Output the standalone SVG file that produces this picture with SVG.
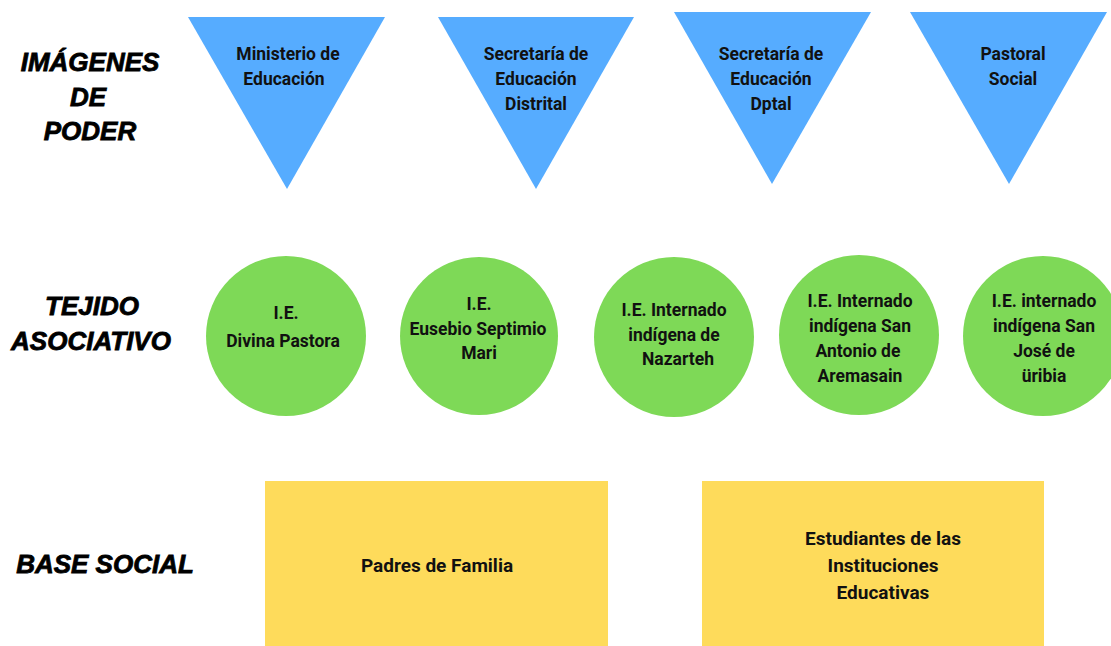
<svg xmlns="http://www.w3.org/2000/svg" width="1111" height="646" viewBox="0 0 1111 646">
<style>
.t{font-family:Roboto,"Liberation Sans",sans-serif;font-weight:bold;font-size:17.5px;fill:#111;text-anchor:middle;dominant-baseline:central}
.r{font-size:19px}
.lab{font-family:"Liberation Sans",sans-serif;font-weight:bold;font-style:italic;font-size:26px;fill:#000;stroke:#000;stroke-width:0.8;text-anchor:middle;dominant-baseline:central}
.tri{fill:#56acff}
.cir{fill:#7ed957}
.box{fill:#fedb5b}
</style>
<rect width="1111" height="646" fill="#fff"/>
<g id="labels">
<text class="lab" x="90" y="62">IMÁGENES</text>
<text class="lab" x="88" y="97">DE</text>
<text class="lab" x="90" y="131">PODER</text>
<text class="lab" x="92" y="306">TEJIDO</text>
<text class="lab" x="91" y="341">ASOCIATIVO</text>
<text class="lab" x="105" y="564">BASE SOCIAL</text>
</g>
<g id="connectors"></g>
<g id="tri1"><polygon class="tri" points="188,17 385,17 287,189"/><text class="t" x="288" y="54">Ministerio de</text><text class="t" x="284" y="79">Educación</text></g>
<g id="tri2"><polygon class="tri" points="438,17 634,17 536,189"/><text class="t" x="536" y="54">Secretaría de</text><text class="t" x="536" y="79">Educación</text><text class="t" x="536" y="104">Distrital</text></g>
<g id="tri3"><polygon class="tri" points="674,12 871,12 772,184"/><text class="t" x="771" y="54">Secretaría de</text><text class="t" x="771" y="79">Educación</text><text class="t" x="771" y="104">Dptal</text></g>
<g id="tri4"><polygon class="tri" points="910,12 1107,12 1009,184"/><text class="t" x="1013" y="54">Pastoral</text><text class="t" x="1013" y="79">Social</text></g>
<g id="c1"><circle class="cir" cx="286" cy="336" r="80"/><text class="t" x="286" y="313">I.E.</text><text class="t" x="283" y="341">Divina Pastora</text></g>
<g id="c2"><circle class="cir" cx="479" cy="336" r="79"/><text class="t" x="479" y="304">I.E.</text><text class="t" x="478" y="329">Eusebio Septimio</text><text class="t" x="479" y="353">Mari</text></g>
<g id="c3"><circle class="cir" cx="674" cy="337" r="80"/><text class="t" x="674" y="310">I.E. Internado</text><text class="t" x="674" y="335">indígena de</text><text class="t" x="678" y="359">Nazarteh</text></g>
<g id="c4"><circle class="cir" cx="859" cy="335" r="80"/><text class="t" x="860" y="301">I.E. Internado</text><text class="t" x="860" y="326">indígena San</text><text class="t" x="858" y="351">Antonio de</text><text class="t" x="860" y="376">Aremasain</text></g>
<g id="c5"><circle class="cir" cx="1043" cy="336" r="80"/><text class="t" x="1044" y="301">I.E. internado</text><text class="t" x="1044" y="326">indígena San</text><text class="t" x="1044" y="351">José de</text><text class="t" x="1044" y="376">üribia</text></g>
<g id="b1"><rect class="box" x="265" y="481" width="343" height="170"/><text class="t r" x="437" y="565">Padres de Familia</text></g>
<g id="b2"><rect class="box" x="702" y="481" width="342" height="170"/><text class="t r" x="883" y="538">Estudiantes de las</text><text class="t r" x="883" y="565">Instituciones</text><text class="t r" x="883" y="592">Educativas</text></g>
</svg>
